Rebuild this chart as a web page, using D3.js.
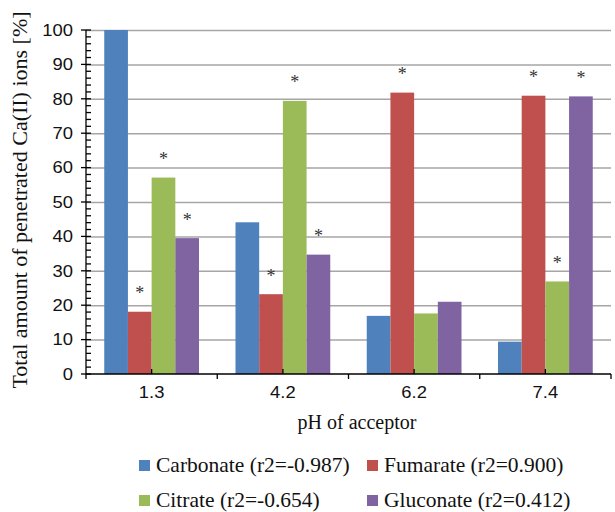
<!DOCTYPE html>
<html lang="en">
<head>
    <script src="https://d3js.org/d3.v7.min.js"></script>
    <style>
        body { margin: 0; background: #fff; }
        .serif { font-family: "Liberation Serif", "Times New Roman", Times, serif; fill: #111; }
        .sans { font-family: "Liberation Sans", Arial, sans-serif; fill: #111; }
        .grid line { stroke: #a6a6a6; stroke-width: 1.5px; }
        .grid path { display: none; }
    </style>
</head>
<body>
    <div id="chart"></div>

    <script>
        // Data
        const categories = ['1.3', '4.2', '6.2', '7.4'];
        const seriesNames = ['Carbonate', 'Fumarate', 'Citrate', 'Gluconate'];
        const seriesLabels = ['Carbonate (r2=-0.987)', 'Fumarate (r2=0.900)', 'Citrate (r2=-0.654)', 'Gluconate (r2=0.412)'];
        const carbonate = [100, 44.1, 16.9, 9.4];
        const fumarate = [18.1, 23.2, 81.8, 80.9];
        const citrate = [57.1, 79.4, 17.6, 26.9];
        const gluconate = [39.5, 34.7, 21.0, 80.7];
        // significance markers (asterisk above bar)
        const carbonateStar = [0, 0, 0, 0];
        const fumarateStar = [1, 1, 1, 1];
        const citrateStar = [1, 1, 0, 1];
        const gluconateStar = [1, 1, 0, 1];
        const yTicks = [0, 10, 20, 30, 40, 50, 60, 70, 80, 90, 100];
        const colors = ['#4f81bd', '#c0504d', '#9bbb59', '#8064a2'];

        const values = [carbonate, fumarate, citrate, gluconate];
        const stars = [carbonateStar, fumarateStar, citrateStar, gluconateStar];

        const W = 615, H = 512;
        const plotLeft = 86, plotRight = 611, plotTop = 30, plotBottom = 374;
        const sx = 1.15; // tick digits in the source look stretched sideways

        const svg = d3.select('#chart').append('svg')
            .attr('width', W)
            .attr('height', H);

        const x0 = d3.scaleBand().domain(categories).range([plotLeft, plotRight]).padding(0);
        const x1 = d3.scaleBand().domain(seriesNames).range([0, x0.bandwidth()])
            .paddingInner(0).paddingOuter(0.77);
        const y = d3.scaleLinear().domain([0, 100]).range([plotBottom, plotTop]);

        // gridlines
        svg.append('g')
            .attr('class', 'grid')
            .attr('transform', `translate(${plotLeft},0)`)
            .call(d3.axisLeft(y).tickValues(yTicks.slice(1)).tickSize(-(plotRight - plotLeft)).tickFormat(''));

        // bars
        const rows = [];
        categories.forEach((c, i) => {
            seriesNames.forEach((s, j) => {
                rows.push({ cat: c, series: s, j: j, value: values[j][i], star: stars[j][i] });
            });
        });

        svg.append('g').selectAll('rect')
            .data(rows)
            .enter().append('rect')
            .attr('x', d => x0(d.cat) + x1(d.series))
            .attr('width', x1.bandwidth())
            .attr('y', d => y(d.value))
            .attr('height', d => plotBottom - y(d.value))
            .attr('fill', d => colors[d.j]);

        // asterisks
        svg.append('g').selectAll('text')
            .data(rows.filter(d => d.star))
            .enter().append('text')
            .attr('class', 'serif')
            .attr('text-anchor', 'middle')
            .attr('font-size', 18)
            .style('fill', '#333')
            .attr('x', d => x0(d.cat) + x1(d.series) + x1.bandwidth() / 2)
            .attr('y', d => y(d.value) - 12.4)
            .text('*');

        // y axis line, ticks
        const axis = svg.append('g').attr('stroke', '#000').attr('stroke-width', 1.3);
        axis.append('line').attr('x1', plotLeft).attr('x2', plotLeft).attr('y1', plotTop).attr('y2', plotBottom);
        axis.selectAll('line.major')
            .data(yTicks)
            .enter().append('line')
            .attr('class', 'major')
            .attr('x1', plotLeft - 5).attr('x2', plotLeft + 5)
            .attr('y1', d => y(d)).attr('y2', d => y(d));
        axis.selectAll('line.minor')
            .data(d3.range(0, 101, 2).filter(v => v % 10 !== 0))
            .enter().append('line')
            .attr('class', 'minor')
            .attr('x1', plotLeft).attr('x2', plotLeft + 5)
            .attr('y1', d => y(d)).attr('y2', d => y(d));

        // x axis line, ticks
        axis.append('line').attr('x1', plotLeft).attr('x2', plotRight).attr('y1', plotBottom).attr('y2', plotBottom);
        const bounds = categories.map(c => x0(c)).concat([plotRight]);
        axis.selectAll('line.xb')
            .data(bounds)
            .enter().append('line')
            .attr('class', 'xb')
            .attr('x1', d => d).attr('x2', d => d)
            .attr('y1', plotBottom).attr('y2', plotBottom + 5);
        axis.selectAll('line.xc')
            .data(categories)
            .enter().append('line')
            .attr('class', 'xc')
            .attr('x1', d => x0(d) + x0.bandwidth() / 2).attr('x2', d => x0(d) + x0.bandwidth() / 2)
            .attr('y1', plotBottom - 5).attr('y2', plotBottom);

        // tick labels
        svg.append('g').selectAll('text')
            .data(yTicks)
            .enter().append('text')
            .attr('class', 'sans')
            .attr('font-size', 16)
            .attr('text-anchor', 'end')
            .attr('dy', '0.36em')
            .attr('transform', d => `translate(73,${y(d)}) scale(${sx},1)`)
            .text(d => d);

        svg.append('g').selectAll('text')
            .data(categories)
            .enter().append('text')
            .attr('class', 'sans')
            .attr('font-size', 16)
            .attr('text-anchor', 'middle')
            .attr('transform', d => `translate(${x0(d) + x0.bandwidth() / 2},398) scale(${sx},1)`)
            .text(d => d);

        // axis titles
        svg.append('text')
            .attr('class', 'serif')
            .attr('font-size', 20)
            .attr('text-anchor', 'middle')
            .attr('x', 357)
            .attr('y', 429)
            .text('pH of acceptor');

        svg.append('text')
            .attr('class', 'serif')
            .attr('font-size', 22)
            .attr('text-anchor', 'middle')
            .attr('transform', 'translate(27,200) rotate(-90)')
            .text('Total amount of penetrated Ca(II) ions [%]');

        // legend
        const legendPos = [[139, 460], [367, 460], [139, 495], [367, 495]];
        const legend = svg.append('g').selectAll('g')
            .data(seriesLabels)
            .enter().append('g')
            .attr('transform', (d, i) => `translate(${legendPos[i][0]},${legendPos[i][1]})`);
        legend.append('rect')
            .attr('width', 11).attr('height', 11)
            .attr('fill', (d, i) => colors[i]);
        legend.append('text')
            .attr('class', 'serif')
            .attr('font-size', 21.5)
            .attr('x', 17)
            .attr('y', 11.5)
            .text(d => d);
    </script>
</body>
</html>
